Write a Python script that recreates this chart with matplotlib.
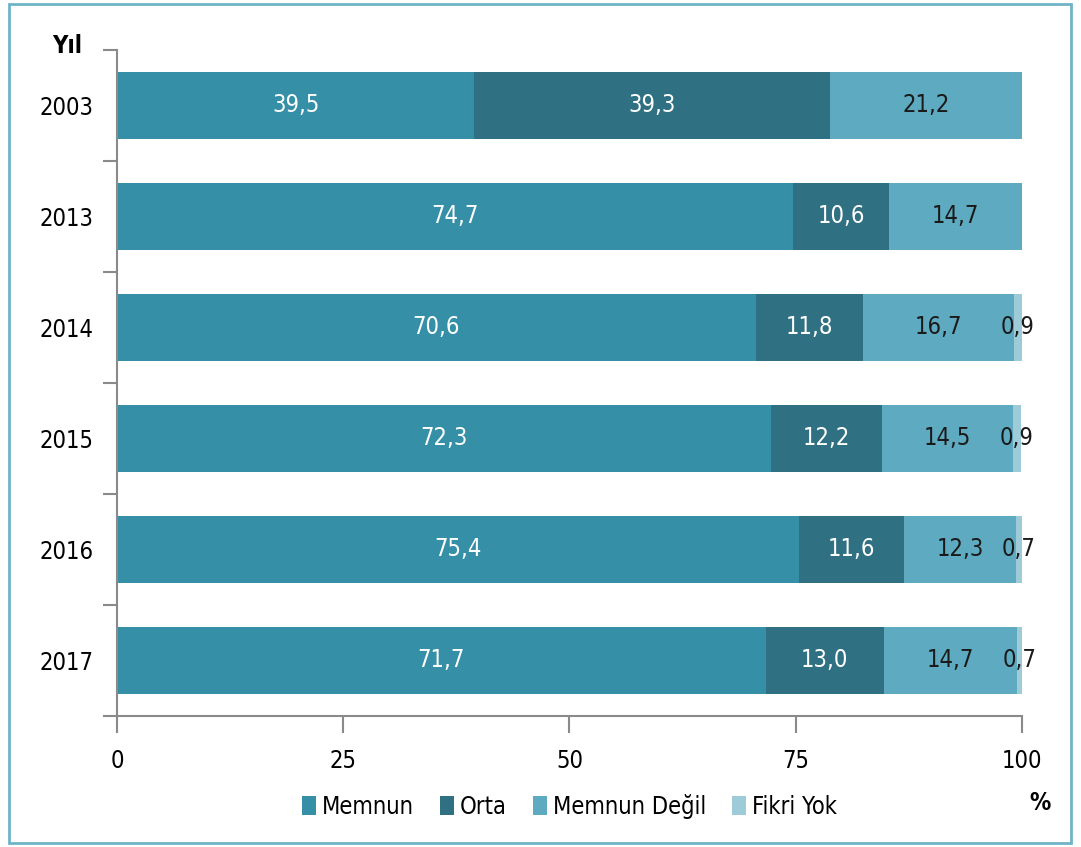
import matplotlib
matplotlib.use("Agg")
import matplotlib.pyplot as plt
from matplotlib.patches import Rectangle

years = ["2003", "2013", "2014", "2015", "2016", "2017"]
memnun = [39.5, 74.7, 70.6, 72.3, 75.4, 71.7]
orta = [39.3, 10.6, 11.8, 12.2, 11.6, 13.0]
memnun_degil = [21.2, 14.7, 16.7, 14.5, 12.3, 14.7]
fikri_yok = [0.0, 0.0, 0.9, 0.9, 0.7, 0.7]

series_names = ["Memnun", "Orta", "Memnun Değil", "Fikri Yok"]
colors = ["#358fa6", "#2f7082", "#5eaac0", "#9dcbd8"]
label_colors = ["white", "white", "#1a1a1a", "#1a1a1a"]

plt.rcParams["font.family"] = ["DejaVu Sans"]
plt.rcParams["font.stretch"] = "condensed"

fig = plt.figure(figsize=(10.81, 8.47), dpi=100)
ax = fig.add_axes([0.1082, 0.1547, 0.8372, 0.7863])

fig.patches.append(Rectangle((0.008, 0.005), 0.983, 0.99, transform=fig.transFigure,
                             fill=False, edgecolor="#6fb3c6", linewidth=2))

ypos = list(range(len(years)))
left = [0.0] * len(years)
for vals, name, col, lc in zip([memnun, orta, memnun_degil, fikri_yok], series_names, colors, label_colors):
    ax.barh(ypos, vals, left=left, height=0.6, color=col, label=name)
    for y, v, l in zip(ypos, vals, left):
        if v > 0:
            ax.text(l + v / 2, y, f"{v:.1f}".replace(".", ","), ha="center", va="center",
                    color=lc, fontsize=17)
    left = [a + b for a, b in zip(left, vals)]

ax.set_xlim(0, 100)
ax.set_ylim(len(years) - 0.5, -0.5)
ax.set_xticks([0, 25, 50, 75, 100])
ax.set_yticks(ypos)
ax.set_yticklabels(years)
ax.set_yticks([i - 0.5 for i in range(len(years) + 1)], minor=True)
ax.tick_params(axis="y", which="major", length=0, pad=17, labelsize=17)
ax.tick_params(axis="y", which="minor", length=10, width=1.5, color="#8a8a8a")
ax.tick_params(axis="x", length=12, width=1.5, color="#8a8a8a", pad=12, labelsize=17)

for s in ["top", "right"]:
    ax.spines[s].set_visible(False)
for s in ["left", "bottom"]:
    ax.spines[s].set_color("#8a8a8a")
    ax.spines[s].set_linewidth(1.5)

fig.text(0.062, 0.946, "Yıl", fontsize=17, fontweight="bold", ha="center", va="center")
fig.text(0.962, 0.052, "%", fontsize=17, fontweight="bold", ha="center", va="center")

ax.legend(loc="upper center", bbox_to_anchor=(0.5, -0.085), ncol=4, frameon=False,
          fontsize=17, handlelength=0.6, handleheight=0.9, handletextpad=0.25,
          columnspacing=1.1)

fig.savefig("out.png", dpi=100)
